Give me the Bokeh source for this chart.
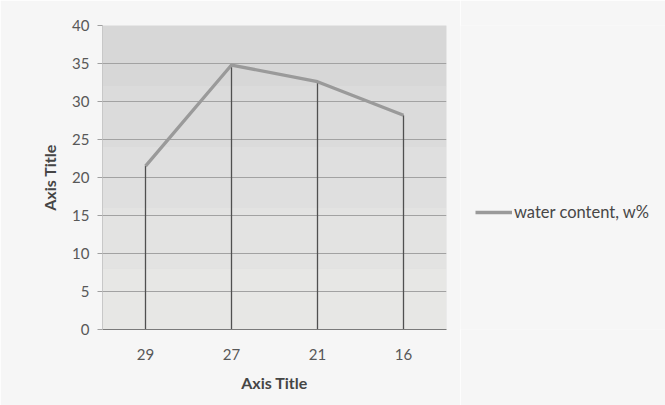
from bokeh.plotting import figure
from bokeh.layouts import row
from bokeh.models import ColumnDataSource, Legend, LegendItem, FactorRange
from bokeh.embed import file_html
from bokeh.resources import INLINE

# Sample depths (category labels) and measured water content, w%
depths = ["29", "27", "21", "16"]
water_content = [21.5, 34.8, 32.6, 28.2]
y_ticks = [0, 5, 10, 15, 20, 25, 30, 35, 40]
series_name = "water content, w%"

FONT = "Lato"
PAGE_BG = "#f6f6f6"
LINE_COLOR = "#9a9a9a"
LINE_WIDTH = 3.3

src = ColumnDataSource(dict(depth=depths, w=water_content, base=[0] * len(depths)))

p = figure(
    width=460, height=405,
    x_range=FactorRange(*depths, range_padding=0),
    y_range=(0, 40),
    output_backend="svg", toolbar_location=None,
    min_border_left=102, min_border_right=14,
    min_border_top=25, min_border_bottom=76,
    background_fill_color="#dddddd",
    border_fill_color=PAGE_BG,
)
p.outline_line_color = None

# shading bands in the plot area (darker towards the top)
shades = ["#e7e7e5", "#e3e3e2", "#dfdfdf", "#dbdbdb", "#d7d7d7"]
edges = [0, 8, 16, 24, 32, 40]
for i, c in enumerate(shades):
    p.quad(left=0, right=4, bottom=edges[i], top=edges[i + 1],
           fill_color=c, line_color=None, level="underlay")

# Drop lines from each point down to zero
p.segment(x0="depth", y0="base", x1="depth", y1="w", source=src,
          line_color="#505050", line_width=1.3)

# The water content series
p.line(x="depth", y="w", source=src, line_color=LINE_COLOR, line_width=LINE_WIDTH)

# Axes
p.yaxis.ticker = y_ticks
p.yaxis.axis_label = "Axis Title"
p.xaxis.axis_label = "Axis Title"
for ax in (p.xaxis[0], p.yaxis[0]):
    ax.axis_label_text_font = FONT
    ax.axis_label_text_font_style = "bold"
    ax.axis_label_text_font_size = "16px"
    ax.axis_label_text_color = "#454545"
    ax.major_label_text_font = FONT
    ax.major_label_text_font_size = "15px"
    ax.major_label_text_color = "#585858"
    ax.minor_tick_line_color = None

p.yaxis.axis_line_color = "#c8c8c8"
p.yaxis.major_tick_line_color = "#a0a0a0"
p.yaxis.major_tick_in = 0
p.yaxis.major_tick_out = 5
p.yaxis.major_label_standoff = 8
p.yaxis.axis_label_standoff = 10

p.xaxis.axis_line_color = "#7a7a7a"
p.xaxis.major_tick_line_color = None
p.xaxis.major_label_standoff = 13
p.xaxis.axis_label_standoff = 10

p.xgrid.grid_line_color = None
p.ygrid.grid_line_color = "#a2a2a2"
p.ygrid.grid_line_width = 1

# Legend panel to the right of the chart; the key line lies outside
# its view so only the legend sample shows
lg = figure(
    width=205, height=405, x_range=(0, 1), y_range=(0, 1),
    output_backend="svg", toolbar_location=None,
    x_axis_location=None, y_axis_location=None,
    min_border=0, background_fill_color=PAGE_BG, border_fill_color=PAGE_BG,
)
lg.outline_line_color = None
lg.grid.grid_line_color = None
key = lg.line(x=[5, 6], y=[5, 6], line_color=LINE_COLOR, line_width=LINE_WIDTH)

legend = Legend(
    items=[LegendItem(label=series_name, renderers=[key])],
    location=(15, 107),
    glyph_width=37, glyph_height=16, label_standoff=2,
    padding=0, margin=0, spacing=0,
    border_line_color=None, background_fill_alpha=0,
    label_text_font=FONT, label_text_font_size="16.5px", label_text_color="#474747",
)
lg.add_layout(legend, "center")

page = row(p, lg, spacing=0)
open("out.html", "w").write(file_html(page, INLINE))
